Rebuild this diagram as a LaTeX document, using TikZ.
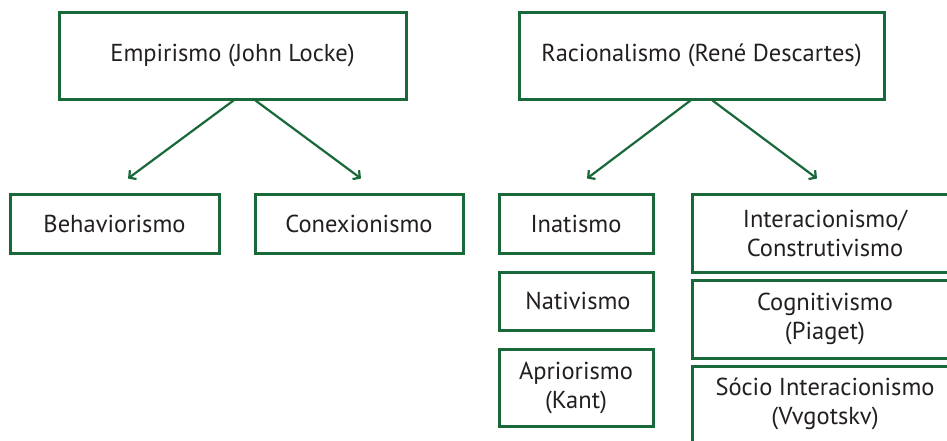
\documentclass[tikz,border=0pt]{standalone}
\usepackage{fontspec}
\setmainfont{PT Sans}
\usetikzlibrary{arrows.meta,calc}
\definecolor{dgreen}{RGB}{24,104,58}
\definecolor{txt}{RGB}{35,31,32}
\begin{document}
\begin{tikzpicture}[x=1pt,y=-1pt,
  box/.style={draw=dgreen,line width=3pt,rectangle,align=center,text=txt,
    font=\fontsize{24.5}{29}\selectfont,inner sep=0pt},
  conn/.style={draw=dgreen,line width=2.2pt,-{Straight Barb[length=5pt,width=11pt,line width=2.2pt]}}]
\clip (0,0) rectangle (947,440);
\fill[white] (0,0) rectangle (947,440);
\node[box,minimum width=347,minimum height=87] (emp) at (232.5,55.5) {Empirismo (John Locke)};
\node[box,minimum width=365,minimum height=87] (rac) at (701.5,55.5) {Racionalismo (René Descartes)};
\node[box,minimum width=209,minimum height=59] (beh) at (114.5,223.5) {Behaviorismo};
\node[box,minimum width=208,minimum height=59] (con) at (359,223.5) {Conexionismo};
\node[box,minimum width=154,minimum height=59] (ina) at (576,223.5) {Inatismo};
\node[box,minimum width=154,minimum height=58] (nat) at (576,301) {\hspace*{4pt}Nativismo};
\node[box,minimum width=154,minimum height=77] (apr) at (576,387.5) {Apriorismo\\(Kant)};
\node[box,minimum width=266,minimum height=78] (int) at (825,233) {Interacionismo/\\Construtivismo};
\node[box,minimum width=266,minimum height=78] (cog) at (825,319) {Cognitivismo\\(Piaget)};
\node[box,minimum width=266,minimum height=76] (soc) at (825,404) {Sócio Interacionismo\\(Vvgotskv)};
\coordinate (e1) at ($(emp.south)+(1,0)$);
\coordinate (e2) at ($(emp.south)+(23,0)$);
\coordinate (r1) at ($(rac.south)+(-11,0)$);
\coordinate (r2) at ($(rac.south)+(11,0)$);
\coordinate (tb) at ($(beh.north)+(13.5,-14)$);
\coordinate (tc) at ($(con.north)+(2,-14)$);
\coordinate (ti) at ($(ina.north)+(11,-14)$);
\coordinate (tn) at ($(int.north)+(-8,-14)$);
\draw[conn] (e1) -- (tb);
\draw[conn] (e2) -- (tc);
\draw[conn] (r1) -- (ti);
\draw[conn] (r2) -- (tn);
\end{tikzpicture}
\end{document}
